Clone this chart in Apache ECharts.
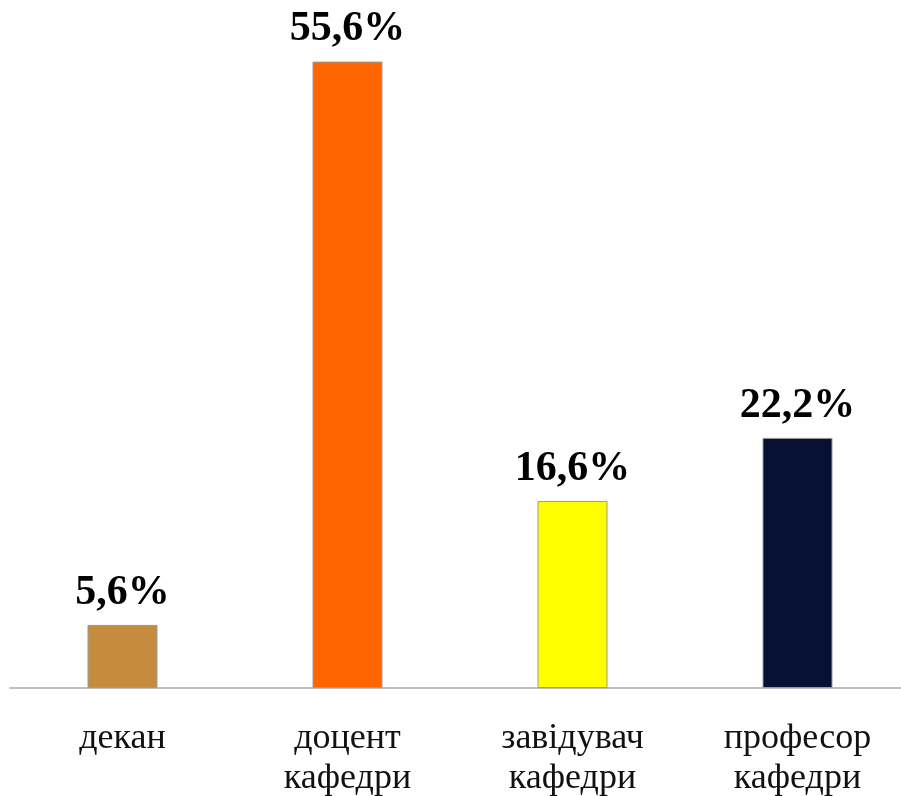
<!DOCTYPE html>
<html>
<head>
<meta charset="utf-8">
<script src="https://cdn.jsdelivr.net/npm/echarts@6/dist/echarts.min.js"></script>
<style>html,body{margin:0;padding:0;background:#fff;overflow:hidden}#c{width:901px;height:796px}</style>
</head>
<body>
<div id="c"></div>
<script>
const categories = ['декан', 'доцент\nкафедри', 'завідувач\nкафедри', 'професор\nкафедри'];
const values = [5.6, 55.6, 16.6, 22.2];
const valueLabels = ['5,6%', '55,6%', '16,6%', '22,2%'];
const colors = ['#C68C3E', '#FF6600', '#FFFF00', '#061133'];

const chart = echarts.init(document.getElementById('c'));
chart.setOption({
  animation: false,
  backgroundColor: '#fff',
  grid: { left: 10, width: 900, top: 12, height: 676, outerBoundsMode: 'none', containLabel: false },
  xAxis: {
    type: 'category',
    data: categories,
    axisLine: { lineStyle: { color: '#BFBFBF', width: 2 } },
    axisTick: { show: false },
    axisLabel: {
      color: '#111',
      fontFamily: 'Liberation Serif, Times New Roman, serif',
      fontSize: 36,
      lineHeight: 40,
      margin: 31
    }
  },
  yAxis: {
    type: 'value', min: 0, max: 60, show: false,
    splitLine: { show: false }
  },
  series: [{
    type: 'bar',
    barWidth: 70,
    data: values.map((v, i) => ({
      value: v,
      itemStyle: { color: colors[i], borderColor: '#9a9a9a', borderWidth: 1 },
      label: { formatter: valueLabels[i] }
    })),
    label: {
      show: true,
      position: 'top',
      distance: 11,
      color: '#000',
      fontFamily: 'Liberation Serif, Times New Roman, serif',
      fontWeight: 'bold',
      fontSize: 42
    }
  }]
});
</script>
</body>
</html>
